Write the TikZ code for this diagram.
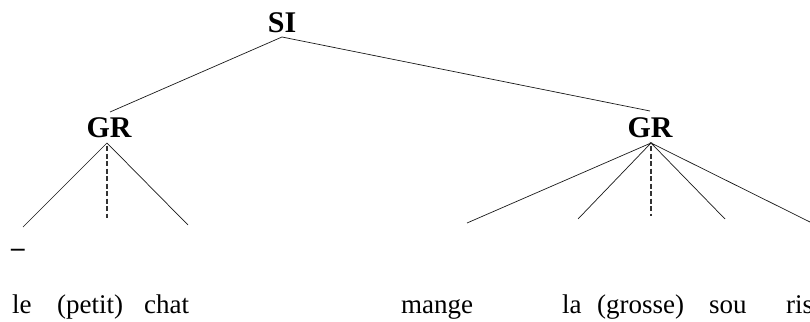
\documentclass[tikz,border=0pt]{standalone}
\usepackage{fontspec}
\setmainfont{Liberation Serif}
\begin{document}
\begin{tikzpicture}[x=1pt,y=-1pt,
  lab/.style={font=\fontsize{30}{33}\selectfont\bfseries, inner sep=0pt, anchor=base},
  word/.style={font=\fontsize{27}{30}\selectfont, inner sep=0pt, anchor=base west},
  branch/.style={line width=0.7pt, draw=black!90},
  headline/.style={line width=2.2pt, draw=black!80, dash pattern=on 5pt off 2.5pt}]
\useasboundingbox (0,0) rectangle (810,321);
\clip (0,0) rectangle (810,321);
% labels
\node[lab] (SI) at (282,33) {SI};
\node[lab] (GRl) at (109,137) {GR};
\node[lab] (GRr) at (650,137) {GR};
% attachment points
\coordinate (SIb) at (282,37);
\coordinate (GRlt) at (110,112);
\coordinate (GRrt) at (650,111);
\coordinate (GRlb) at (107,143);
\coordinate (GRrb) at (651,143);
\coordinate (L1) at (23,227);
\coordinate (L2) at (188,225);
\coordinate (Ld) at (107,218);
\coordinate (R1) at (467,223);
\coordinate (R2) at (578,219);
\coordinate (R3) at (725,219);
\coordinate (R4) at (814,224);
\coordinate (Rd) at (651,216);
% branches
\draw[branch] (GRlt) -- (SIb) -- (GRrt);
\draw[branch] (L1) -- (GRlb) -- (L2);
\draw[branch] (R1) -- (GRrb) -- (R2);
\draw[branch] (R3) -- (GRrb) -- (R4);
\draw[headline] (GRlb) ++(0,3) -- (Ld);
\draw[headline] (GRrb) ++(0,3) -- (Rd);
% dash
\node[word, font=\fontsize{27}{30}\selectfont\bfseries] (dash) at (11,256) {–};
% words
\node[word] (w1) at (12,313) {le};
\node[word] (w2) at (57,313) {(petit)};
\node[word] (w3) at (144,313) {chat};
\node[word] (w4) at (401,313) {mange};
\node[word] (w5) at (562,313) {la};
\node[word] (w6) at (597,313) {(grosse)};
\node[word] (w7) at (709,313) {sou};
\node[word] (w8) at (786,313) {ris};
\end{tikzpicture}
\end{document}
